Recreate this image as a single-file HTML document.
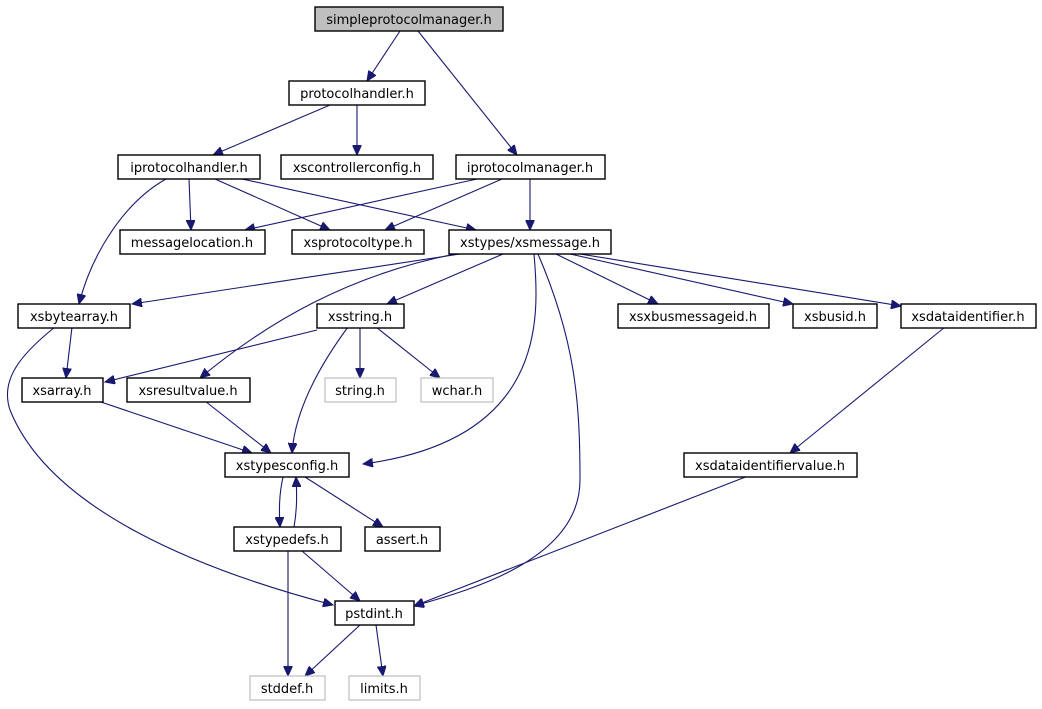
<!DOCTYPE html>
<html><head><meta charset="utf-8"><style>
html,body{margin:0;padding:0;background:#fff;}
svg{display:block;}
text{font-family:"DejaVu Sans","Liberation Sans",sans-serif;font-size:13px;text-anchor:middle;fill:#000;}
.e{fill:none;stroke:#191970;stroke-width:1.1;marker-end:url(#a);}
.n{fill:#fff;stroke:#000;stroke-width:1.4;}
.g{fill:#fff;stroke:#bfbfbf;stroke-width:1.2;}
</style></head><body>
<svg width="1042" height="709" viewBox="0 0 1042 709" xmlns="http://www.w3.org/2000/svg">
<defs><marker id="a" markerUnits="userSpaceOnUse" markerWidth="11" markerHeight="9" refX="10" refY="4.5" orient="auto"><path d="M0,0 L10,4.5 L0,9 Z" fill="#191970" stroke="#191970"/></marker></defs>
<path class="e" d="M400,31 L367,81"/>
<path class="e" d="M418,31 L517,155"/>
<path class="e" d="M330,105 L213,155"/>
<path class="e" d="M357,105 L357,155"/>
<path class="e" d="M166,179 C120,205 90,260 79,304"/>
<path class="e" d="M189,179 L191,230"/>
<path class="e" d="M215,179 L330,230"/>
<path class="e" d="M242,179 L476,230"/>
<path class="e" d="M477,179 L245,230"/>
<path class="e" d="M502,179 L385,230"/>
<path class="e" d="M530,179 L530,230"/>
<path class="e" d="M460,254 L132,304"/>
<path class="e" d="M455,254 C350,275 270,320 200,378"/>
<path class="e" d="M503,254 L387,304"/>
<path class="e" d="M534,254 C540,320 545,440 363,464"/>
<path class="e" d="M538,254 C575,340 580,400 580,480 C580,560 470,590 414,606"/>
<path class="e" d="M556,254 L658,304"/>
<path class="e" d="M570,254 L793,304"/>
<path class="e" d="M580,254 L901,306"/>
<path class="e" d="M72,327 L66,378"/>
<path class="e" d="M55,327 C20,355 0,380 10,410 C50,510 200,570 333,605"/>
<path class="e" d="M317,330 L105,382"/>
<path class="e" d="M348,327 C320,365 295,410 292,453"/>
<path class="e" d="M360,327 L360,378"/>
<path class="e" d="M376,327 L440,378"/>
<path class="e" d="M98,401 L252,453"/>
<path class="e" d="M205,401 L271,453"/>
<path class="e" d="M945,327 L790,453"/>
<path class="e" d="M748,476 L414,606"/>
<path class="e" d="M283,477 C279,495 279,510 280,527"/>
<path class="e" d="M294,527 C297,510 297,495 296,477"/>
<path class="e" d="M305,477 L383,527"/>
<path class="e" d="M302,551 L360,601"/>
<path class="e" d="M288,551 L288,676"/>
<path class="e" d="M360,625 L305,676"/>
<path class="e" d="M376,625 L383,676"/>

<rect x="315" y="7" width="188" height="24" fill="#bfbfbf" stroke="#000" stroke-width="1.4"/><text x="409" y="24">simpleprotocolmanager.h</text>
<rect class="n" x="289" y="81" width="136" height="24"/><text x="357" y="98">protocolhandler.h</text>
<rect class="n" x="118" y="155" width="142" height="24"/><text x="189" y="172">iprotocolhandler.h</text>
<rect class="n" x="281" y="155" width="152" height="24"/><text x="357" y="172">xscontrollerconfig.h</text>
<rect class="n" x="456" y="155" width="149" height="24"/><text x="530" y="172">iprotocolmanager.h</text>
<rect class="n" x="120" y="230" width="145" height="24"/><text x="192" y="247">messagelocation.h</text>
<rect class="n" x="292" y="230" width="132" height="24"/><text x="358" y="247">xsprotocoltype.h</text>
<rect class="n" x="449" y="230" width="162" height="24"/><text x="530" y="247">xstypes/xsmessage.h</text>
<rect class="n" x="18" y="304" width="112" height="24"/><text x="74" y="321">xsbytearray.h</text>
<rect class="n" x="317" y="304" width="87" height="24"/><text x="360" y="321">xsstring.h</text>
<rect class="n" x="618" y="304" width="151" height="24"/><text x="693" y="321">xsxbusmessageid.h</text>
<rect class="n" x="793" y="304" width="84" height="24"/><text x="835" y="321">xsbusid.h</text>
<rect class="n" x="901" y="304" width="135" height="24"/><text x="968" y="321">xsdataidentifier.h</text>
<rect class="n" x="22" y="378" width="81" height="24"/><text x="62" y="395">xsarray.h</text>
<rect class="n" x="127" y="378" width="123" height="24"/><text x="188" y="395">xsresultvalue.h</text>
<rect class="g" x="325" y="378" width="71" height="24"/><text x="360" y="395">string.h</text>
<rect class="g" x="421" y="378" width="72" height="24"/><text x="457" y="395">wchar.h</text>
<rect class="n" x="225" y="453" width="124" height="24"/><text x="287" y="470">xstypesconfig.h</text>
<rect class="n" x="684" y="453" width="173" height="24"/><text x="770" y="470">xsdataidentifiervalue.h</text>
<rect class="n" x="234" y="527" width="107" height="24"/><text x="287" y="544">xstypedefs.h</text>
<rect class="n" x="365" y="527" width="75" height="24"/><text x="402" y="544">assert.h</text>
<rect class="n" x="335" y="601" width="79" height="24"/><text x="374" y="618">pstdint.h</text>
<rect class="g" x="250" y="676" width="75" height="24"/><text x="287" y="693">stddef.h</text>
<rect class="g" x="349" y="676" width="71" height="24"/><text x="384" y="693">limits.h</text>
</svg>
</body></html>
